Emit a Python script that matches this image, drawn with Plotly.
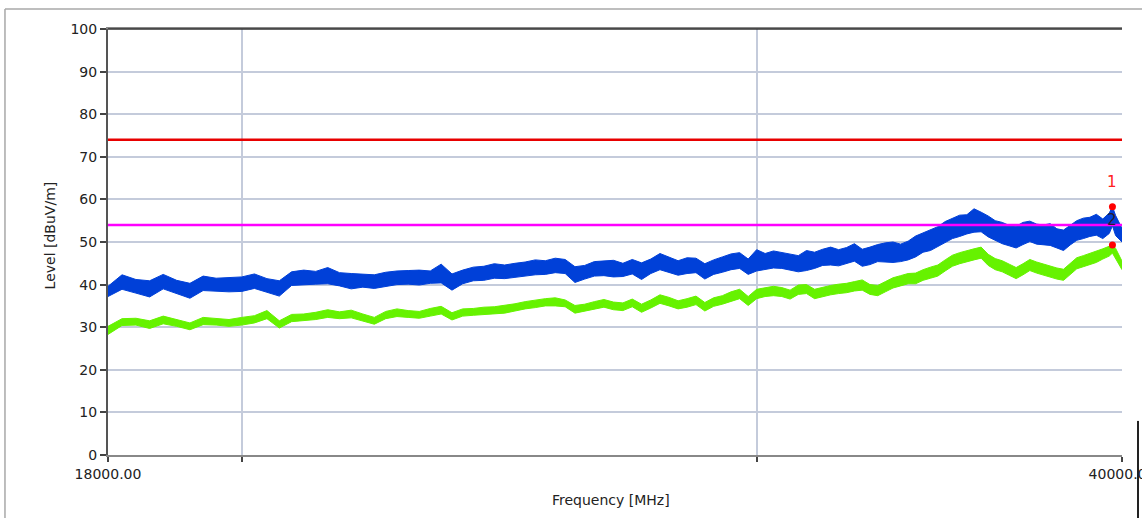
import math
import plotly.graph_objects as go

# ---------------- data ----------------
freq_mhz = [
    18000, 18200, 18400, 18600, 18800, 19000, 19200, 19400, 19600, 19800,
    20000, 20200, 20400, 20600, 20800, 21000, 21200, 21400, 21600, 21800,
    22000, 22200, 22400, 22600, 22800, 23000, 23200, 23400, 23600, 23800,
    24000, 24200, 24400, 24600, 24800, 25000, 25200, 25400, 25600, 25800,
    26000, 26200, 26400, 26600, 26800, 27000, 27200, 27400, 27600, 27800,
    28000, 28200, 28400, 28600, 28800, 29000, 29200, 29400, 29600, 29800,
    30000, 30200, 30400, 30600, 30800, 31000, 31200, 31400, 31600, 31800,
    32000, 32200, 32400, 32600, 32800, 33000, 33200, 33400, 33600, 33800,
    34000, 34200, 34400, 34600, 34800, 35000, 35200, 35400, 35600, 35800,
    36000, 36200, 36400, 36600, 36800, 37000, 37200, 37400, 37600, 37800,
    38000, 38200, 38400, 38600, 38800, 39000, 39200, 39400, 39600, 39700, 39800, 40000,
]

# Peak trace (blue): upper and lower edge of the noisy band, dBuV/m
peak_hi = [
    39.6, 42.3, 41.2, 40.9, 42.4, 41.0, 40.3, 42.0, 41.5, 41.6,
    41.8, 42.5, 41.4, 40.9, 43.0, 43.4, 43.1, 44.0, 42.8, 42.6,
    42.4, 42.3, 42.9, 43.2, 43.3, 43.4, 43.2, 44.8, 42.5, 43.4,
    44.1, 44.3, 44.9, 44.6, 45.0, 45.3, 45.8, 45.6, 46.2, 45.9,
    44.2, 44.5, 45.4, 45.5, 45.7, 45.0, 45.9, 45.1, 46.0, 47.3,
    46.4, 45.6, 46.3, 46.2, 44.9, 45.8, 46.5, 47.2, 47.5, 46.0,
    48.2, 47.3, 47.9, 47.5, 47.2, 46.8, 48.0, 47.6, 48.3, 48.8,
    48.2, 48.7, 49.6, 48.3, 48.8, 49.4, 49.8, 50.0, 49.5, 50.2,
    51.4, 52.1, 52.8, 53.6, 54.8, 55.6, 56.3, 56.4, 57.8, 57.0,
    56.1, 55.0, 54.6, 53.9, 53.7, 54.6, 54.9, 54.2, 54.0, 54.3,
    53.1, 52.8, 53.9, 55.0, 55.6, 55.8, 56.5, 55.4, 56.8, 58.3, 56.2, 53.2,
]
peak_lo = [
    37.2, 38.9, 38.0, 37.1, 39.0, 37.9, 36.8, 38.6, 38.5, 38.3,
    38.4, 39.1, 38.2, 37.3, 39.8, 40.0, 40.1, 40.2, 39.7, 39.0,
    39.4, 39.1, 39.6, 40.0, 40.1, 39.9, 40.3, 40.4, 38.7, 40.2,
    40.9, 41.0, 41.5, 41.4, 41.7, 42.0, 42.3, 42.4, 42.8, 42.6,
    40.5, 41.3, 42.0, 42.1, 41.8, 41.9, 42.5, 41.2, 42.6, 43.5,
    42.9, 42.2, 42.6, 42.8, 41.3, 42.4, 42.9, 43.5, 43.8, 42.4,
    43.2, 43.6, 43.9, 43.8, 43.4, 43.0, 43.3, 43.8, 44.5, 44.6,
    44.4, 44.9, 45.5, 44.3, 44.7, 45.4, 45.3, 45.2, 45.4, 45.8,
    46.5, 47.6, 48.0, 49.0, 49.8, 50.8, 51.3, 51.9, 52.3, 52.4,
    51.2, 50.3, 49.6, 49.1, 48.6, 49.4, 50.1, 49.5, 49.3, 49.2,
    48.6, 48.0, 49.3, 50.4, 50.8, 51.3, 51.6, 50.8, 52.0, 53.8, 51.5, 50.0,
]

# Average trace (green): upper and lower edge of the band, dBuV/m
avg_hi = [
    30.2, 32.0, 32.1, 31.5, 32.6, 31.8, 31.0, 32.3, 32.1, 31.8,
    32.3, 32.7, 33.9, 31.5, 33.0, 33.1, 33.5, 34.1, 33.6, 34.0,
    33.1, 32.3, 33.7, 34.3, 33.9, 33.7, 34.4, 34.9, 33.4, 34.3,
    34.4, 34.7, 34.8, 35.1, 35.5, 36.0, 36.4, 36.7, 36.9, 36.4,
    35.1, 35.4, 36.0, 36.5, 35.9, 35.7, 36.6, 35.4, 36.4, 37.6,
    37.0, 36.2, 36.7, 37.3, 35.8, 36.9, 37.4, 38.3, 38.9, 37.2,
    38.9, 39.3, 39.6, 39.3, 38.7, 39.9, 40.0, 38.9, 39.4, 39.8,
    40.1, 40.3, 40.7, 41.1, 40.0, 39.8, 40.7, 41.6, 42.1, 42.6,
    42.7, 43.5, 44.1, 44.6, 45.8, 46.9, 47.5, 48.0, 48.4, 48.8,
    47.1, 46.1, 45.6, 44.8, 44.0, 44.9, 45.9, 45.3, 44.8, 44.3,
    43.9, 43.6, 44.9, 46.3, 46.8, 47.3, 47.8, 48.4, 49.0, 49.3, 48.5, 45.5,
]
avg_lo = [
    28.3, 30.4, 30.5, 29.7, 30.8, 30.2, 29.4, 30.6, 30.5, 30.2,
    30.5, 31.0, 32.0, 29.8, 31.3, 31.5, 31.8, 32.3, 32.0, 32.2,
    31.5, 30.7, 32.0, 32.5, 32.3, 32.1, 32.6, 33.1, 31.7, 32.6,
    32.8, 33.0, 33.2, 33.3, 33.8, 34.3, 34.6, 35.0, 35.0, 34.8,
    33.3, 33.8, 34.2, 34.7, 34.1, 33.9, 34.8, 33.5, 34.5, 35.6,
    35.0, 34.3, 34.7, 35.3, 33.8, 34.9, 35.4, 36.1, 36.7, 35.1,
    36.7, 37.2, 37.4, 37.2, 36.6, 37.7, 37.9, 36.7, 37.2, 37.6,
    37.9, 38.1, 38.5, 38.7, 37.7, 37.4, 38.3, 39.2, 39.7, 40.2,
    40.2, 41.0, 41.5, 42.0, 43.2, 44.3, 44.9, 45.4, 45.8, 46.2,
    44.5, 43.5, 43.0, 42.2, 41.4, 42.3, 43.3, 42.7, 42.2, 41.7,
    41.3, 41.0, 42.3, 43.7, 44.2, 44.7, 45.2, 46.0, 46.7, 47.4, 46.2, 43.5,
]

limit_freq = [18000, 40000]
limit_peak = [74, 74]      # red
limit_avg = [54, 54]       # magenta

marker_freq = [39700, 39700]
marker_level = [58.3, 49.3]
marker_label = ["1", "2"]
marker_label_color = ["#ff2020", "#2a1a2a"]

x_tickvals = [18000, 20000, 30000, 40000]
x_ticktext = ["18000.00", "", "", "40000.00"]
y_tickvals = [0, 10, 20, 30, 40, 50, 60, 70, 80, 90, 100]

BLUE = "#0040d8"
GREEN = "#66f200"
FONT = "DejaVu Sans"

# ---------------- figure ----------------
fig = go.Figure()

# green (average) band
fig.add_trace(go.Scatter(x=freq_mhz, y=avg_lo, mode="lines",
                         line=dict(color=GREEN, width=1), showlegend=False, hoverinfo="skip"))
fig.add_trace(go.Scatter(x=freq_mhz, y=avg_hi, mode="lines", fill="tonexty",
                         fillcolor=GREEN, line=dict(color=GREEN, width=1),
                         showlegend=False, hoverinfo="skip"))
# blue (peak) band
fig.add_trace(go.Scatter(x=freq_mhz, y=peak_lo, mode="lines",
                         line=dict(color=BLUE, width=1), showlegend=False, hoverinfo="skip"))
fig.add_trace(go.Scatter(x=freq_mhz, y=peak_hi, mode="lines", fill="tonexty",
                         fillcolor=BLUE, line=dict(color=BLUE, width=1),
                         showlegend=False, hoverinfo="skip"))

# limit lines
fig.add_trace(go.Scatter(x=limit_freq, y=limit_peak, mode="lines",
                         line=dict(color="#e80000", width=2.5), showlegend=False))
fig.add_trace(go.Scatter(x=limit_freq, y=limit_avg, mode="lines",
                         line=dict(color="#ff00ff", width=2.5), showlegend=False))

# markers
fig.add_trace(go.Scatter(x=marker_freq, y=marker_level, mode="markers",
                         marker=dict(color="#ff0000", size=7), showlegend=False))
for f, lv, lab, col in zip(marker_freq, marker_level, marker_label, marker_label_color):
    # annotations on a log axis take log10 of the data value
    fig.add_annotation(x=math.log10(f), y=lv, xref="x", yref="y", text=lab, showarrow=False,
                       yshift=25, font=dict(family=FONT, size=15, color=col))

# axis titles as annotations for precise placement
fig.add_annotation(text="Frequency [MHz]", xref="paper", yref="paper",
                   x=0.496, y=-0.106, xanchor="center", yanchor="middle",
                   showarrow=False, font=dict(family=FONT, size=14, color="#222"))
fig.add_annotation(text="Level [dBuV/m]", xref="paper", yref="paper",
                   x=-0.057, y=0.516, xanchor="center", yanchor="middle", textangle=-90,
                   showarrow=False, font=dict(family=FONT, size=14, color="#222"))

# frame lines
shapes = [
    dict(type="line", xref="paper", yref="paper", x0=-0.1016, x1=-0.1016, y0=1.047, y1=-0.16,
         line=dict(color="#a8a8a8", width=1.5)),
    dict(type="line", xref="paper", yref="paper", x0=-0.1016, x1=1.03, y0=1.047, y1=1.047,
         line=dict(color="#a8a8a8", width=1.5)),
    dict(type="line", xref="paper", yref="paper", x0=1.0158, x1=1.0158, y0=0.08, y1=-0.16,
         line=dict(color="#222", width=2)),
    dict(type="line", xref="paper", yref="paper", x0=0, x1=1, y0=1, y1=1,
         line=dict(color="#333", width=1.5)),
]

fig.update_layout(
    width=1142, height=518,
    margin=dict(l=108, r=20, t=29, b=63, autoexpand=False),
    paper_bgcolor="white", plot_bgcolor="white",
    font=dict(family=FONT, size=14, color="#222"),
    shapes=shapes,
    xaxis=dict(type="log", range=[4.255273, 4.602060], automargin=False,
               tickvals=x_tickvals, ticktext=x_ticktext, ticklabeloverflow="allow",
               ticks="outside", ticklen=5, tickcolor="#444", tickwidth=1.5,
               showgrid=True, gridcolor="#c4cbdb", gridwidth=1.5,
               showline=True, linecolor="#888", linewidth=1.5, mirror=True,
               zeroline=False, tickfont=dict(family=FONT, size=14, color="#222")),
    yaxis=dict(range=[0, 100], tickvals=y_tickvals, automargin=False,
               ticks="outside", ticklen=6, tickcolor="#444", tickwidth=1.5,
               showgrid=True, gridcolor="#c4cbdb", gridwidth=1.5,
               showline=True, linecolor="#555", linewidth=2,
               zeroline=False, tickfont=dict(family=FONT, size=14, color="#222")),
)

fig.write_html("out.html", config={"displayModeBar": False},
               post_script="document.body.style.margin='0';")
